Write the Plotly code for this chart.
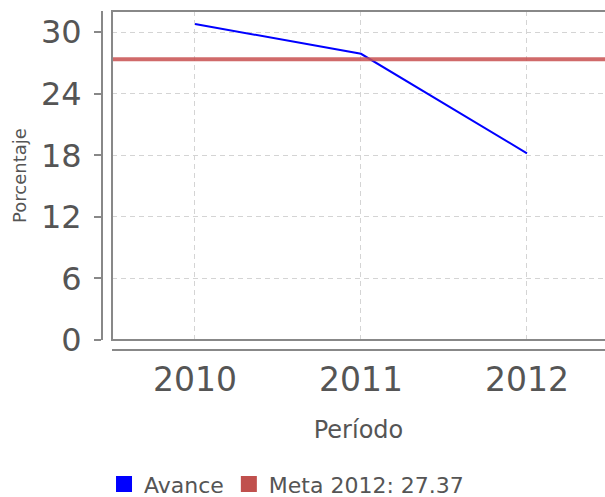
import plotly.graph_objects as go

periods = ["2010", "2011", "2012"]
avance = [30.8, 27.9, 18.2]
meta_value = 27.37
meta_label = "Meta 2012: 27.37"
y_ticks = [0, 6, 12, 18, 24, 30]

fig = go.Figure()
fig.add_trace(go.Scatter(x=periods, y=avance, mode="lines",
                         line=dict(color="#0000FF", width=2), showlegend=False))
# legend entries (square swatches)
fig.add_trace(go.Scatter(x=[None], y=[None], mode="markers", name="Avance",
                         marker=dict(symbol="square", size=20, color="#0000FF")))
fig.add_trace(go.Scatter(x=[None], y=[None], mode="markers", name=meta_label,
                         marker=dict(symbol="square", size=20, color="#C0504D")))

fig.add_shape(type="line", xref="x domain", yref="y", x0=0, x1=1,
              y0=meta_value, y1=meta_value,
              line=dict(color="rgba(200,80,80,0.85)", width=4), layer="above")
# plot frame
fig.add_shape(type="rect", xref="paper", yref="paper", x0=0.0199, x1=1.02,
              y0=0.0295, y1=1, line=dict(color="#888888", width=2), layer="above")

fig.update_layout(
    width=605, height=497,
    margin=dict(l=102, r=0, t=11, b=147, autoexpand=False),
    paper_bgcolor="white", plot_bgcolor="white",
    font=dict(family="DejaVu Sans", color="#555555"),
    xaxis=dict(type="category", domain=[0.0199, 1], anchor="free", position=0,
               range=[-0.5, 2.47], showline=True, linecolor="#888888", linewidth=2,
               showgrid=True, gridcolor="#d4d4d4", griddash="5px,4px", gridwidth=1,
               ticks="", tickfont=dict(size=33, color="#555555"), automargin=False,
               title=dict(text="Período", font=dict(size=24, color="#555555"), standoff=23),
               zeroline=False),
    yaxis=dict(domain=[0.0295, 1], anchor="free", position=0,
               range=[0, 32.07], tickvals=y_ticks, showline=True,
               linecolor="#888888", linewidth=2, ticks="outside", ticklen=7,
               tickcolor="#888888", tickwidth=2, ticklabelstandoff=6, automargin=False,
               showgrid=True, gridcolor="#d4d4d4", griddash="5px,4px", gridwidth=1,
               tickfont=dict(size=32, color="#555555"),
               title=dict(text="Porcentaje", font=dict(size=18, color="#555555"), standoff=9),
               zeroline=False),
    legend=dict(orientation="h", x=0.004, xanchor="left", y=-0.396, yanchor="middle",
                font=dict(size=22, color="#555555"), itemwidth=30, tracegroupgap=0),
)

fig.write_html("out.html", config={"displayModeBar": False},
               post_script="document.body.style.margin='0';document.body.style.overflow='hidden';")
